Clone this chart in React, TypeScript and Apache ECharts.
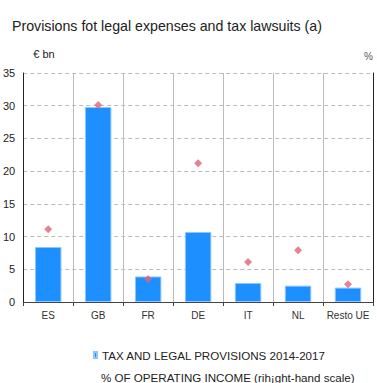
import React, { useEffect, useRef } from "react";
import * as echarts from "echarts";

const categories = ["ES", "GB", "FR", "DE", "IT", "NL", "Resto UE"];
const provisions = [8.4, 29.8, 3.9, 10.7, 2.9, 2.5, 2.2];
const pctOperatingIncome = [11.1, 30.1, 3.5, 21.2, 6.1, 7.9, 2.7];
const yTicks = { min: 0, max: 35, interval: 5 };
const seriesNames = ["TAX AND LEGAL PROVISIONS 2014-2017", "% OF OPERATING INCOME (rih¡ght-hand scale)"];

const FONT = "'Liberation Sans', Arial, Helvetica, sans-serif";

export default function App() {
  const ref = useRef<HTMLDivElement>(null);
  useEffect(() => {
    document.body.style.margin = "0";
    const chart = echarts.init(ref.current!, null, { renderer: "svg" });
    const legendText = { fontSize: 11.6, color: "#222", fontFamily: FONT };
    chart.setOption({
      animation: false,
      textStyle: { fontFamily: FONT },
      title: {
        text: "Provisions fot legal expenses and tax lawsuits (a)",
        left: 7,
        top: 14,
        textStyle: { fontSize: 14.2, fontWeight: "normal", color: "#222", fontFamily: FONT },
      },
      legend: [
        {
          left: 88,
          top: 344,
          itemWidth: 3,
          itemHeight: 6,
          itemGap: 8,
          textStyle: legendText,
          data: [
            {
              name: seriesNames[0],
              icon: "rect",
              itemStyle: { color: "#1E8FFF" },
            },
          ],
        },
        {
          left: 88,
          top: 366,
          itemWidth: 3,
          itemHeight: 6,
          textStyle: legendText,
          data: [
            {
              name: seriesNames[1],
              icon: "rect",
              itemStyle: { color: "transparent" },
            },
          ],
        },
      ],
      grid: { left: 17, right: 4, top: 73, bottom: 81, containLabel: false },
      xAxis: {
        type: "category",
        data: categories,
        axisLine: { lineStyle: { color: "#444", width: 1 } },
        axisTick: { show: true, length: 4, interval: 0, lineStyle: { color: "#444" } },
        axisLabel: { fontSize: 10, color: "#333", margin: 8, interval: 0, fontFamily: FONT },
        splitLine: { show: true, interval: 0, lineStyle: { color: "#bbb", width: 1 } },
      },
      yAxis: [
        {
          type: "value",
          min: yTicks.min,
          max: yTicks.max,
          interval: yTicks.interval,
          name: "€ bn",
          nameLocation: "end",
          nameGap: 14,
          nameTextStyle: { fontSize: 11, color: "#222", align: "left", padding: [0, 0, 0, 10], fontFamily: FONT },
          axisLine: { show: true, lineStyle: { color: "#222" } },
          axisTick: { show: false },
          axisLabel: { fontSize: 11, color: "#222", margin: 8, fontFamily: FONT },
          splitLine: { show: true, lineStyle: { color: "#bbb", type: [4, 3] } },
        },
        {
          type: "value",
          min: yTicks.min,
          max: yTicks.max,
          interval: yTicks.interval,
          position: "right",
          name: "%",
          nameLocation: "end",
          nameGap: 12,
          nameTextStyle: { fontSize: 10, color: "#555", align: "right", padding: [0, 0, 0, 0], fontFamily: FONT },
          axisLine: { show: true, lineStyle: { color: "#222" } },
          axisTick: { show: false },
          axisLabel: { show: false },
          splitLine: { show: false },
        },
      ],
      series: [
        {
          name: seriesNames[0],
          type: "bar",
          data: provisions,
          barWidth: "53%",
          yAxisIndex: 0,
          itemStyle: { color: "#1E8FFF", borderColor: "#8EC6FF", borderWidth: 1 },
        },
        {
          name: seriesNames[1],
          type: "scatter",
          data: pctOperatingIncome,
          yAxisIndex: 1,
          symbol: "diamond",
          symbolSize: 8,
          itemStyle: { color: "#E06478" },
          z: 5,
        },
      ],
    });
    return () => chart.dispose();
  }, []);
  return <div ref={ref} style={{ width: 377, height: 383 }} />;
}
